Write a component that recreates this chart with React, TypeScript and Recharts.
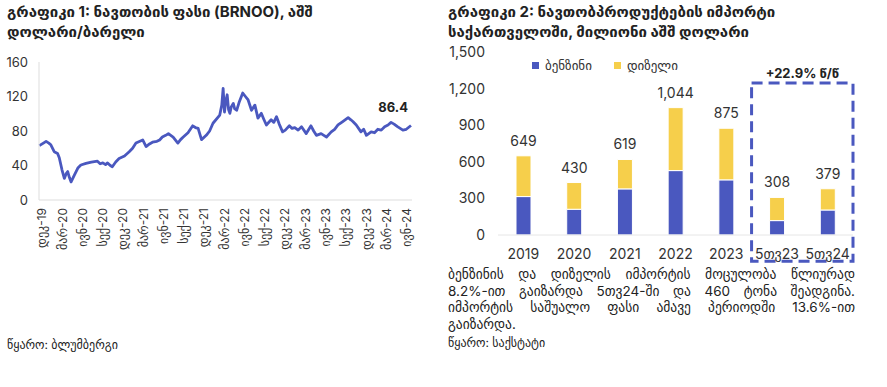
import { LineChart, Line, XAxis, YAxis, BarChart, Bar, LabelList, Legend, ReferenceArea } from 'recharts'

const FONT = "Inter, 'DejaVu Sans', sans-serif"
const BLUE = '#4a58bf'
const YELLOW = '#f6cf4b'

// months counted from Dec-2019
const brentMonths = [
  -0.4, 0.2, 0.6, 1.0, 1.3, 1.8, 2.3, 2.55, 2.95, 3.3, 3.6, 3.8, 4.05, 4.3, 4.8, 5.3, 5.75, 6.5, 7.3, 8.2, 8.6, 9.0,
  9.4, 9.7, 10.1, 10.4, 10.9, 11.4, 12.2, 12.9, 13.4, 13.9, 14.9, 15.4, 15.9, 16.35, 17.0, 17.4, 17.8, 18.3, 18.7,
  19.4, 20.1, 20.5, 20.9, 21.6, 22.3, 22.7, 23.1, 23.6, 24.3, 24.8, 25.3, 26.3, 26.6, 26.8, 27.0, 27.2, 27.4, 27.6,
  27.8, 28.0, 28.3, 28.5, 28.8, 29.2, 29.7, 30.1, 30.5, 31.0, 31.5, 31.95, 32.45, 32.8, 33.2, 33.9, 34.3, 34.7, 35.1,
  35.6, 36.0, 36.6, 37.0, 37.4, 37.9, 38.4, 39.1, 39.8, 40.2, 40.6, 41.3, 41.7, 42.1, 42.8, 43.3, 43.8, 44.5, 45.3,
  45.7, 46.0, 46.5, 47.2, 47.6, 48.0, 48.7, 49.2, 49.7, 50.2, 50.7, 51.2, 51.65, 52.1, 52.6, 53.0, 53.4, 53.9, 54.6,
]
const brentPrices = [
  63, 66, 68, 66, 64, 56, 54, 49, 35, 25, 31, 33, 26, 21, 29, 37, 40.6, 42.5, 44, 45, 42, 43,
  41, 43, 40, 38.6, 44, 48, 51, 56, 60, 66, 69.6, 62, 65, 67, 68, 69.6, 73, 75, 77,
  73, 66, 70, 73, 78, 86, 84, 83, 70, 75, 80, 89, 98.5, 110, 129.5, 102, 115, 122, 105,
  100.5, 108, 112, 106, 104, 114, 124, 120, 116, 104, 110, 95, 100.5, 94, 87, 93, 90, 96.6, 88,
  79, 81, 86, 83, 84, 81, 85, 77, 86, 80, 75, 77, 75, 73, 79, 82, 87, 91, 95.5,
  93, 91, 87, 79, 82, 75, 79, 78, 82, 81, 85, 87, 90, 88, 85, 83, 81, 82, 86.4,
]
const brentTicks = [0, 3, 6, 9, 12, 15, 18, 21, 24, 27, 30, 33, 36, 39, 42, 45, 48, 51, 54]
const brentTickLabels = [
  'დეკ-19', 'მარ-20', 'ივნ-20', 'სექ-20', 'დეკ-20', 'მარ-21', 'ივნ-21', 'სექ-21', 'დეკ-21', 'მარ-22',
  'ივნ-22', 'სექ-22', 'დეკ-22', 'მარ-23', 'ივნ-23', 'სექ-23', 'დეკ-23', 'მარ-24', 'ივნ-24',
]

const importPeriods = ['2019', '2020', '2021', '2022', '2023', '5თვ23', '5თვ24']
const benzineValues = [315, 211, 378, 528, 452, 118, 205]
const dieselValues = [334, 219, 241, 516, 423, 190, 174]
const importTotals = [649, 430, 619, 1044, 875, 308, 379]

const brentData = brentMonths.map((m, i) => ({ m, price: brentPrices[i] }))
const importData = importPeriods.map((p, i) => ({
  period: p,
  benzine: benzineValues[i],
  diesel: dieselValues[i],
  total: importTotals[i],
}))

const lastIdx = brentData.length - 1

function MonthTick({ x, y, payload }: any) {
  const label = brentTickLabels[Math.round(payload.value / 3)]
  return (
    <text
      x={x}
      y={y}
      transform={`rotate(-90 ${x} ${y})`}
      textAnchor="end"
      dy="0.35em"
      fontSize={12}
      fill="#333"
      fontFamily={FONT}
    >
      {label}
    </text>
  )
}

function LastLabel(props: any) {
  const { x, y, index } = props
  if (index !== lastIdx) return null
  return (
    <text x={x - 3} y={y - 13} textAnchor="end" fontSize={13} fontWeight="bold" fill="#222" fontFamily={FONT}>
      {brentPrices[lastIdx].toFixed(1)}
    </text>
  )
}

function ImportLegend({ payload }: any) {
  return (
    <div style={{ display: 'flex', gap: 22, fontSize: 13, color: '#333', fontFamily: FONT }}>
      {(payload || []).map((p: any) => (
        <span key={p.value} style={{ display: 'flex', alignItems: 'center' }}>
          <span style={{ width: 7, height: 7, background: p.color, marginRight: 6, display: 'inline-block' }} />
          {p.value}
        </span>
      ))}
    </div>
  )
}

const titleStyle = {
  position: 'absolute' as const,
  fontSize: 15,
  fontWeight: 'bold' as const,
  lineHeight: '20px',
  color: '#222',
  fontFamily: FONT,
}

const lineStyle = { textAlign: 'justify' as const, textAlignLast: 'justify' as const, height: 16.5 }

export default function App() {
  return (
    <div
      style={{
        position: 'absolute',
        left: 0,
        top: 0,
        width: 887,
        height: 387,
        background: '#fff',
        fontFamily: FONT,
        overflow: 'hidden',
      }}
    >
      <div style={{ ...titleStyle, left: 7, top: 2 }}>
        გრაფიკი 1: ნავთობის ფასი (BRNOO), აშშ
        <br />
        დოლარი/ბარელი
      </div>
      <div style={{ ...titleStyle, left: 448, top: 2 }}>
        გრაფიკი 2: ნავთობპროდუქტების იმპორტი
        <br />
        საქართველოში, მილიონი აშშ დოლარი
      </div>

      <div style={{ position: 'absolute', left: 0, top: 50 }}>
        <LineChart width={420} height={230} data={brentData} margin={{ top: 12, right: 8, bottom: 0, left: 0 }}>
          <XAxis
            type="number"
            dataKey="m"
            domain={[-0.45, 54.75]}
            ticks={brentTicks}
            interval={0}
            tick={<MonthTick />}
            tickLine={false}
            stroke="#dddddd"
            height={80}
          />
          <YAxis
            domain={[0, 160]}
            ticks={[0, 40, 80, 120, 160]}
            width={39}
            tickLine={false}
            stroke="#dddddd"
            tickMargin={5}
            tick={{ fill: '#333', fontSize: 13, fontFamily: FONT }}
          />
          <Line
            type="linear"
            dataKey="price"
            stroke={BLUE}
            strokeWidth={2.8}
            strokeLinejoin="round"
            dot={false}
            isAnimationActive={false}
            label={<LastLabel />}
          />
        </LineChart>
      </div>

      <div style={{ position: 'absolute', left: 440, top: 40 }}>
        <BarChart width={447} height={240} data={importData} margin={{ top: 12, right: 34, bottom: 15, left: 0 }}>
          <XAxis
            dataKey="period"
            tickLine={false}
            stroke="#e6e6e6"
            height={30}
            tickMargin={8}
            interval={0}
            tick={{ fill: '#333', fontSize: 14, fontFamily: FONT }}
          />
          <YAxis
            domain={[0, 1500]}
            ticks={[0, 300, 600, 900, 1200, 1500]}
            width={58}
            axisLine={false}
            tickLine={false}
            tickMargin={7}
            tickFormatter={(v: number) => v.toLocaleString('en-US')}
            tick={{ fill: '#333', fontSize: 14, fontFamily: FONT }}
          />
          <Legend
            layout="horizontal"
            verticalAlign="middle"
            align="center"
            wrapperStyle={{ top: 17, left: 92, width: 'auto' }}
            content={<ImportLegend />}
          />
          <Bar dataKey="benzine" name="ბენზინი" stackId="a" fill={BLUE} stroke="#fff" strokeWidth={1} barSize={15} isAnimationActive={false} />
          <Bar dataKey="diesel" name="დიზელი" stackId="a" fill={YELLOW} stroke="#fff" strokeWidth={1} barSize={15} isAnimationActive={false}>
            <LabelList
              dataKey="total"
              position="top"
              offset={10}
              fill="#333"
              fontSize={14}
              fontFamily={FONT}
              formatter={(v: any) => Number(v).toLocaleString('en-US')}
            />
          </Bar>
          <ReferenceArea
            x1="5თვ23"
            x2="5თვ24"
            y1={-215}
            y2={1245}
            ifOverflow="visible"
            fill="none"
            fillOpacity={0}
            stroke={BLUE}
            strokeWidth={3}
            strokeDasharray="11 6"
            label={{
              value: '+22.9% წ/წ',
              position: 'top',
              offset: 5,
              fill: '#222',
              fontSize: 13,
              fontWeight: 'bold',
              fontFamily: FONT,
            }}
          />
        </BarChart>
      </div>

      <div
        style={{
          position: 'absolute',
          left: 448,
          top: 266,
          width: 407,
          fontSize: 13.5,
          lineHeight: '16.5px',
          color: '#222',
        }}
      >
        <div style={lineStyle}>ბენზინის და დიზელის იმპორტის მოცულობა წლიურად</div>
        <div style={lineStyle}>8.2%-ით გაიზარდა 5თვ24-ში და 460 ტონა შეადგინა.</div>
        <div style={lineStyle}>იმპორტის საშუალო ფასი ამავე პერიოდში 13.6%-ით</div>
        <div style={{ height: 16.5 }}>გაიზარდა.</div>
        <div style={{ fontSize: 12, marginTop: 3 }}>წყარო: საქსტატი</div>
      </div>

      <div style={{ position: 'absolute', left: 7, top: 337, fontSize: 12, color: '#222' }}>წყარო: ბლუმბერგი</div>
    </div>
  )
}
